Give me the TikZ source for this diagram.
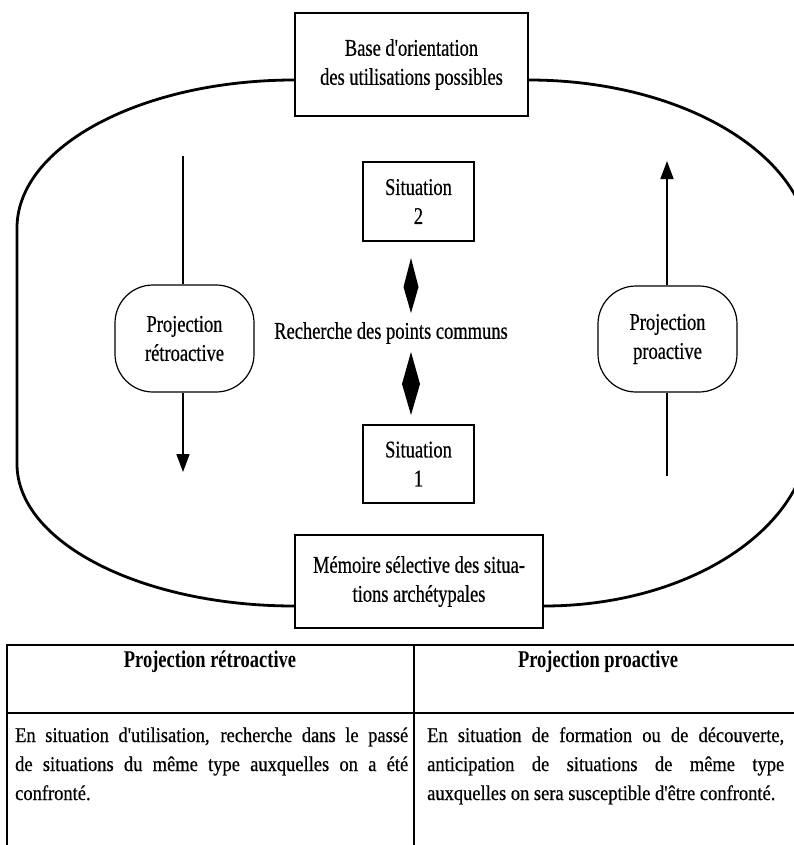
\documentclass[tikz,border=0pt]{standalone}
\usepackage{fontspec}
\setmainfont{Liberation Serif}
\newfontfamily\diagfont[FakeStretch=0.77,FakeBold=0.5]{Liberation Serif}
\newfontfamily\headfont[FakeStretch=0.77]{Liberation Serif}
\newfontfamily\tabfont[FakeStretch=0.88,FakeBold=0.5]{Liberation Serif}
\usetikzlibrary{arrows.meta,calc}
\begin{document}
\begin{tikzpicture}[x=1bp,y=-1bp,
  txt/.style={font=\diagfont\fontsize{24bp}{29bp}\selectfont, align=center, inner sep=0pt},
  box/.style={txt, draw, line width=1.4bp},
  pill/.style={txt, draw, line width=1.2bp, rounded corners=38bp},
  flow/.style={line width=1.7bp},
  tip/.style={-{Triangle[length=18bp,width=13bp]}},
  loopline/.style={line width=2.8bp},
  rule/.style={line width=1.6bp},
  head/.style={font=\headfont\bfseries\fontsize{24bp}{29bp}\selectfont, anchor=base, inner sep=0pt},
  body/.style={font=\tabfont\fontsize{21bp}{29bp}\selectfont, anchor=base west, inner sep=0pt}
]
\fill[white] (0,0) rectangle (794,845);
\useasboundingbox (0,0) rectangle (794,845);
\clip (0,0) rectangle (794,845);

% boxes of the cycle
\node[box, minimum width=233bp, minimum height=103bp] (base) at (411.5,64.5)
  {Base d'orientation\\des utilisations possibles};
\node[box, minimum width=248bp, minimum height=93bp] (mem) at (419,581.5)
  {Mémoire sélective des situa-\\tions archétypales};
\node[box, minimum width=111bp, minimum height=79bp] (s2) at (418.5,201.5) {Situation\\2};
\node[box, minimum width=111bp, minimum height=78bp] (s1) at (418.5,464) {Situation\\1};
\node[pill, minimum width=139bp, minimum height=107bp] (retro) at (184.5,338.5) {Projection\\rétroactive};
\node[pill, minimum width=139bp, minimum height=106bp] (pro) at (667.5,339) {Projection\\proactive};
\node[txt] (common) at (391,333) {Recherche des points communs};

% comparison marks
\fill (411,258) -- (418.5,287) -- (411,313) -- (403.5,287) -- cycle;
\fill (411,352) -- (420,384) -- (411,415) -- (402,384) -- cycle;

% projection arrows
\coordinate (ltop) at (183,156);
\coordinate (lend) at (183,472);
\draw[flow] (ltop) -- (ltop |- retro.north);
\draw[flow, tip] (ltop |- retro.south) -- (lend);
\coordinate (rstart) at (667,476);
\coordinate (rend) at (667,161);
\draw[flow] (rstart) -- (rstart |- pro.south);
\draw[flow, tip] (rstart |- pro.north) -- (rend);

% outer loop
\coordinate (tl) at ([yshift=-15.5bp]base.west);
\coordinate (tr) at ([yshift=-15.5bp]base.east);
\coordinate (bl) at ([yshift=-24.5bp]mem.west);
\coordinate (br) at ([yshift=-24.5bp]mem.east);
\draw[loopline] (tl) .. controls (141.5,80) and (17,146.3) .. (17,228)
  -- (17,464) .. controls (17,542.4) and (141.5,606) .. (bl);
\draw[loopline] (br) .. controls (690.5,606) and (810,527.2) .. (810,430)
  -- (810,250) .. controls (810,156.1) and (683.7,80) .. (tr);

% table
\draw[rule] (7,845) -- (7,645) -- (794,645);
\draw[rule] (7,713) -- (794,713);
\draw[rule] (414,645) -- (414,845);
\node[head] (h1) at (210,667) {Projection rétroactive};
\node[head] (h2) at (598,667) {Projection proactive};
\node[body] (l1) at (15,742) {\makebox[393bp][s]{En situation d'utilisation, recherche dans le passé}};
\node[body] (l2) at (15,771) {\makebox[393bp][s]{de situations du même type auxquelles on a été}};
\node[body] (l3) at (15,800) {confronté.};
\node[body] (r1) at (427,742) {\makebox[357bp][s]{En situation de formation ou de découverte,}};
\node[body] (r2) at (427,771) {\makebox[357bp][s]{anticipation de situations de même type}};
\node[body] (r3) at (427,800) {auxquelles on sera susceptible d'être confronté.};
\end{tikzpicture}
\end{document}
